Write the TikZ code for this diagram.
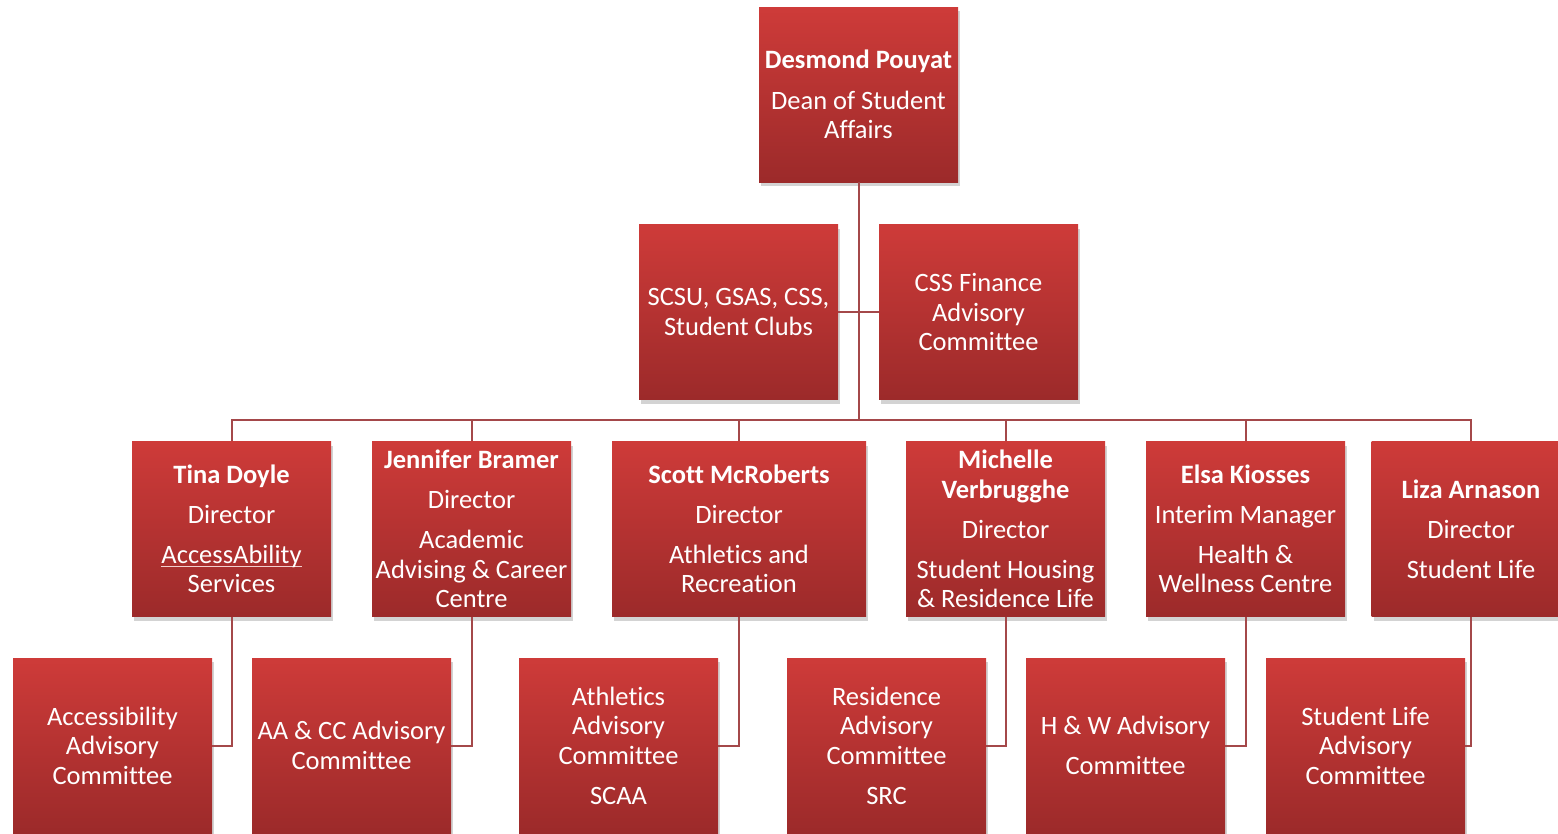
\documentclass[tikz,border=0pt]{standalone}
\usepackage{fontspec}
\setmainfont{Carlito}[Ligatures={NoCommon}]
\usetikzlibrary{shadows}
\definecolor{boxtop}{HTML}{CE3B39}
\definecolor{boxbot}{HTML}{9C2A2A}
\definecolor{linkred}{HTML}{A4484A}
\newcommand\thinul[1]{\setbox0\hbox{#1}\rlap{\raisebox{-3pt}{\color{white!75!boxtop}\rule{\wd0}{0.7pt}}}\box0}
\begin{document}
\begin{tikzpicture}[x=1pt,y=-1pt,
    orgbox/.style={rectangle, minimum width=199pt, minimum height=175pt,
      inner sep=1pt, align=center, text=white, top color=boxtop, bottom color=boxbot,
      font=\fontsize{26.5}{29.5}\selectfont,
      drop shadow={shadow xshift=2pt, shadow yshift=-4pt, opacity=0.35}},
    link/.style={draw=linkred, line width=2pt}]
      \useasboundingbox (0,0) rectangle (1558,833);
      % top
      \node[orgbox] (dean) at (858.5,94.5) {\textbf{Desmond Pouyat}\\[11pt]Dean of Student\\Affairs};
      % assistants
      \node[orgbox] (scsu) at (738.5,312) {SCSU, GSAS, CSS,\\Student Clubs};
      \node[orgbox] (cssf) at (978.5,312) {CSS Finance\\Advisory\\Committee};
      % directors
      \node[orgbox] (tina) at (231.5,529) {\textbf{Tina Doyle}\\[10.5pt]Director\\[10.5pt]\thinul{AccessAbility}\\Services};
      \node[orgbox] (jen) at (471.5,529) {\textbf{Jennifer Bramer}\\[10.5pt]Director\\[10.5pt]Academic\\Advising \& Career\\Centre};
      \node[orgbox, minimum width=254pt] (scott) at (739,529) {\textbf{Scott McRoberts}\\[10.5pt]Director\\[10.5pt]Athletics and\\Recreation};
      \node[orgbox] (mich) at (1005.5,529) {\textbf{Michelle}\\\textbf{Verbrugghe}\\[10.5pt]Director\\[10.5pt]Student Housing\\\& Residence Life};
      \node[orgbox] (elsa) at (1245.5,529) {\textbf{Elsa Kiosses}\\[10.5pt]Interim Manager\\[10.5pt]Health \&\\Wellness Centre};
      \node[orgbox] (liza) at (1471,529) {\textbf{Liza Arnason}\\[10.5pt]Director\\[10.5pt]Student Life};
      % committees
      \node[orgbox] (acc) at (112.5,745.5) {Accessibility\\Advisory\\Committee};
      \node[orgbox] (aacc) at (351.5,745.5) {AA \& CC Advisory\\Committee};
      \node[orgbox] (ath) at (618.5,745.5) {Athletics\\Advisory\\Committee\\[10.5pt]SCAA};
      \node[orgbox] (res) at (886.5,745.5) {Residence\\Advisory\\Committee\\[10.5pt]SRC};
      \node[orgbox] (hw) at (1125.5,745.5) {H \& W Advisory\\[10.5pt]Committee};
      \node[orgbox] (sl) at (1365.5,745.5) {Student Life\\Advisory\\Committee};
      % connectors
      \coordinate (bus) at (858.5,420);
      \draw[link] (dean.south) -- (bus);
      \draw[link] (scsu.east) -- (cssf.west);
      \draw[link] (tina.north) -- (tina.north |- bus) -- (liza.north |- bus) -- (liza.north);
      \foreach \n in {jen,scott,mich,elsa}
        \draw[link] (\n.north) -- (\n.north |- bus);
      \draw[link] (tina.south) |- (acc.east);
      \draw[link] (jen.south) |- (aacc.east);
      \draw[link] (scott.south) |- (ath.east);
      \draw[link] (mich.south) |- (res.east);
      \draw[link] (elsa.south) |- (hw.east);
      \draw[link] (liza.south) |- (sl.east);
    \end{tikzpicture}
\end{document}
